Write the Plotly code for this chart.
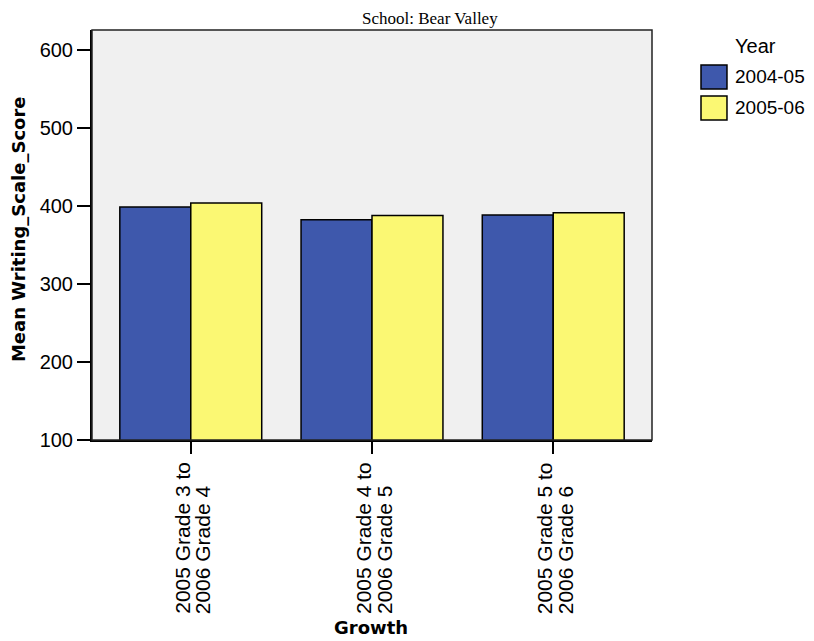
import plotly.graph_objects as go

# ---- data ----
categories = ["2005 Grade 3 to 2006 Grade 4",
              "2005 Grade 4 to 2006 Grade 5",
              "2005 Grade 5 to 2006 Grade 6"]
label_lines = [["2005 Grade 3 to", "2006 Grade 4"],
               ["2005 Grade 4 to", "2006 Grade 5"],
               ["2005 Grade 5 to", "2006 Grade 6"]]
years = ["2004-05", "2005-06"]
values_2004_05 = [399, 382.5, 388.5]
values_2005_06 = [404, 388, 391.5]
y_ticks = [100, 200, 300, 400, 500, 600]

# ---- style ----
colors = ["#3E58AC", "#FBF873"]
sans = "Liberation Sans, Arial, sans-serif"
bold_font = "DejaVu Sans, Liberation Sans, sans-serif"
serif = "Liberation Serif, Times New Roman, serif"

x_pos = list(range(len(categories)))
series = [values_2004_05, values_2005_06]

fig = go.Figure()
for name, vals, col in zip(years, series, colors):
    fig.add_trace(go.Bar(
        x=x_pos, y=vals, name=name,
        marker=dict(color=col, line=dict(color="black", width=1.5)),
        showlegend=False, hoverinfo="skip",
    ))

fig.update_layout(
    width=806, height=633,
    margin=dict(l=84, r=162, t=22, b=201, pad=0),
    paper_bgcolor="white",
    plot_bgcolor="#F0F0F0",
    barmode="group", bargap=0.217, bargroupgap=0,
    font=dict(family=sans, size=20, color="black"),
)

fig.update_xaxes(
    range=[-0.545, len(categories) - 1 + 0.545],
    tickvals=x_pos, ticktext=[""] * len(categories),
    showticklabels=False,
    ticks="outside", ticklen=12, tickwidth=1.5, tickcolor="black",
    showline=True, linecolor="black", linewidth=2,
    showgrid=False, zeroline=False,
)
fig.update_yaxes(
    range=[100, 626],
    tickvals=y_ticks,
    ticks="outside", ticklen=13, tickwidth=1.5, tickcolor="black",
    tickfont=dict(family=sans, size=20, color="black"),
    showline=True, linecolor="black", linewidth=2,
    showgrid=False, zeroline=False,
)

# frame (top / right)
fig.add_shape(type="rect", xref="paper", yref="paper", x0=0, x1=1, y0=0, y1=1,
              line=dict(color="#222222", width=1.5), layer="above")

annotations = []
# x category labels (two rotated lines, bottoms aligned)
for i, lines in enumerate(label_lines):
    for j, line in enumerate(lines):
        annotations.append(dict(
            x=x_pos[i], xref="x", y=-0.4293, yref="paper",
            text=line, textangle=-90, showarrow=False,
            xanchor="center", yanchor="bottom", xshift=-9 + 21 * j,
            font=dict(family=sans, size=21, color="black"),
        ))

# axis titles
annotations.append(dict(
    x=-0.132, y=0.5146, xref="paper", yref="paper",
    text="<b>Mean Writing_Scale_Score</b>", textangle=-90, showarrow=False,
    xanchor="center", yanchor="middle",
    font=dict(family=bold_font, size=18, color="black"),
))
annotations.append(dict(
    x=0.498, y=-0.4585, xref="paper", yref="paper",
    text="<b>Growth</b>", showarrow=False,
    xanchor="center", yanchor="middle",
    font=dict(family=bold_font, size=18, color="black"),
))
# chart title
annotations.append(dict(
    x=0.6036, y=1.029, xref="paper", yref="paper",
    text="School: Bear Valley", showarrow=False,
    xanchor="center", yanchor="middle",
    font=dict(family=serif, size=17, color="black"),
))

# manual legend
annotations.append(dict(
    x=1.1857, y=0.961, xref="paper", yref="paper",
    text="Year", showarrow=False, xanchor="center", yanchor="middle",
    font=dict(family=sans, size=20, color="black"),
))
sw_y = [(0.8561, 0.9146), (0.7805, 0.8390)]
lab_y = [0.8854, 0.8098]
for name, col, (y0, y1), ly in zip(years, colors, sw_y, lab_y):
    fig.add_shape(type="rect", xref="paper", yref="paper",
                  x0=1.0875, x1=1.1339, y0=y0, y1=y1,
                  fillcolor=col, line=dict(color="black", width=1.5))
    annotations.append(dict(
        x=1.1446, y=ly, xref="paper", yref="paper",
        text=name, showarrow=False, xanchor="left", yanchor="middle",
        font=dict(family=sans, size=19, color="black"),
    ))

fig.update_layout(annotations=annotations)

fig.write_html("out.html")
